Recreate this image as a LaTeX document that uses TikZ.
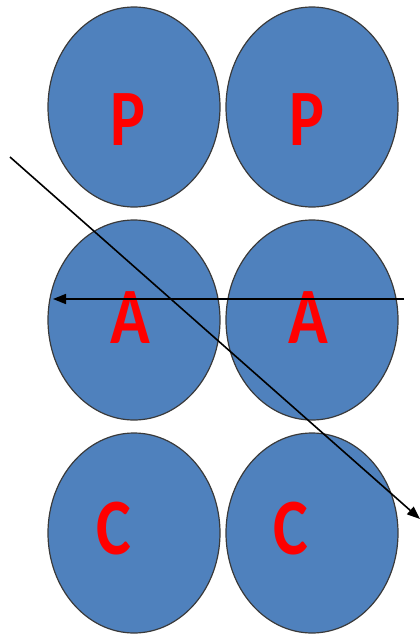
\documentclass[tikz,border=0pt]{standalone}
\usepackage{fontspec}
\setmainfont{Carlito}
\usetikzlibrary{arrows.meta,shapes.geometric}
\definecolor{cellblue}{HTML}{4F81BD}
\definecolor{rimgray}{HTML}{3A3A3A}

\begin{document}
\begin{tikzpicture}[x=1pt,y=-1pt,
    cell/.style={ellipse,draw=rimgray,fill=cellblue,line width=1.2pt,
                 minimum width=172pt,minimum height=200pt,inner sep=0pt},
    tag/.style={text=red,font=\fontsize{80}{80}\selectfont\bfseries,inner sep=0pt,
                xscale=0.82,transform shape},
    ray/.style={line width=1.6pt,-{Triangle[length=13pt,width=10pt]}}]
  \useasboundingbox (0,0) rectangle (420,635);
  % the six cells
  \node[cell] (p1) at (134,107) {};
  \node[cell] (p2) at (312,107) {};
  \node[cell] (a1) at (134,320) {};
  \node[cell] (a2) at (312,320) {};
  \node[cell] (c1) at (134,533) {};
  \node[cell] (c2) at (312,533) {};
  % letters
  \node[tag] (lp1) at (128,120) {P};
  \node[tag] (lp2) at (307,120) {P};
  \node[tag] (la1) at (130,318) {A};
  \node[tag] (la2) at (308,318) {A};
  \node[tag] (lc1) at (114,529) {C};
  \node[tag] (lc2) at (291,529) {C};
  % the two rays
  \coordinate (d0) at (10,157);
  \coordinate (d1) at (420,519);
  \coordinate (h0) at (404,299);
  \coordinate (h1) at (53,299);
  \draw[ray] (d0) -- (d1);
  \draw[ray] (h0) -- (h1);
\end{tikzpicture}
\end{document}
